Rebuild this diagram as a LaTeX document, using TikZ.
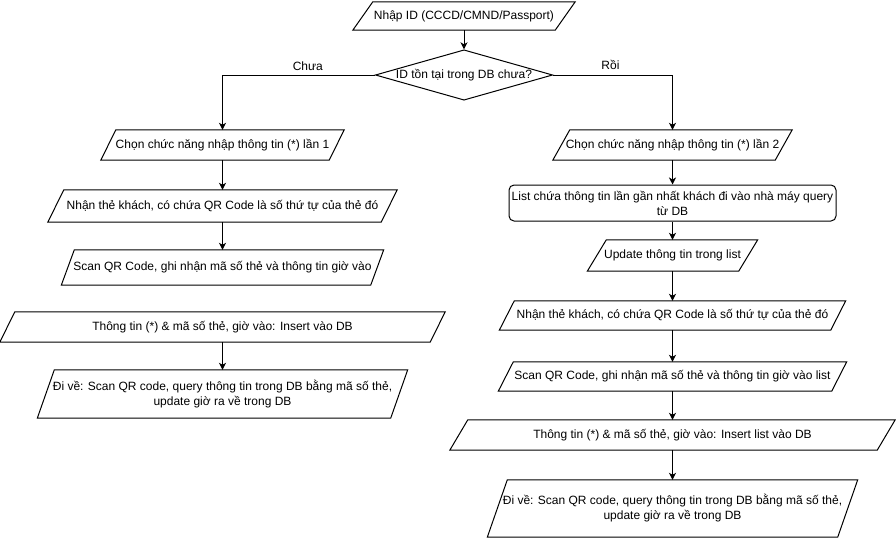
\documentclass[tikz,border=0pt]{standalone}
\usepackage{fontspec}
\setmainfont{Liberation Sans}
\usetikzlibrary{shapes.geometric,arrows.meta}
\tikzset{
  txt/.style={inner sep=0pt, align=center, font=\fontsize{12pt}{15pt}\selectfont},
  shp/.style={draw=black, line width=1pt, line join=miter},
  ln/.style={draw=black, line width=1pt},
  arr/.style={ln, -{Stealth[length=7pt,width=7pt,inset=2pt]}},
  lbl/.style={inner sep=0pt, font=\fontsize{12pt}{15pt}\selectfont},
}
% name, cx, cy, w, h, slant, text
\newcommand\pgram[7]{%
  \node[txt, minimum width=#4pt, minimum height=#5pt] (#1) at (#2,#3) {#7};
  \draw[shp] ([xshift=#6pt]#1.north west) -- (#1.north east)
    -- ([xshift=-#6pt]#1.south east) -- (#1.south west) -- cycle;
}
\begin{document}
\begin{tikzpicture}[x=1pt,y=-1pt]
\useasboundingbox (0,0) rectangle (896,538);

\pgram{T}{464}{16}{222}{28}{20}{Nhập ID (CCCD/CMND/Passport)}
\node[txt, diamond, shp, aspect=3.52, minimum width=176pt, minimum height=50pt] (D) at (464,75) {ID tồn tại trong DB chưa?};

% left branch
\pgram{L1}{222.5}{145}{243}{30}{15}{Chọn chức năng nhập thông tin (*) lần 1}
\pgram{L2}{222.5}{206}{349}{32}{16}{Nhận thẻ khách, có chứa QR Code là số thứ tự của thẻ đó}
\pgram{L3}{222.5}{267.5}{322}{35}{13}{Scan QR Code, ghi nhận mã số thẻ và thông tin giờ vào}
\pgram{L4}{222.5}{327}{445}{30}{15}{Thông tin (*) \& mã số thẻ, giờ vào: Insert vào DB}
\pgram{L5}{222.5}{394}{370}{48}{17}{Đi về: Scan QR code, query thông tin trong DB bằng mã số thẻ,\\update giờ ra về trong DB}

% right branch
\pgram{R1}{672.5}{145}{239}{30}{17}{Chọn chức năng nhập thông tin (*) lần 2}
\node[txt, shp, rounded corners=5pt, minimum width=327pt, minimum height=36pt] (R2) at (672.5,203) {List chứa thông tin lần gần nhất khách đi vào nhà máy query\\từ DB};
\pgram{R3}{672.5}{255.5}{170}{31}{19}{Update thông tin trong list}
\pgram{R4}{672.5}{315.5}{346}{29}{15}{Nhận thẻ khách, có chứa QR Code là số thứ tự của thẻ đó}
\pgram{R5}{672.5}{376.5}{348}{29}{15}{Scan QR Code, ghi nhận mã số thẻ và thông tin giờ vào list}
\pgram{R6}{672.5}{435}{445}{30}{18}{Thông tin (*) \& mã số thẻ, giờ vào: Insert list vào DB}
\pgram{R7}{672.5}{508.5}{370}{57}{20}{Đi về: Scan QR code, query thông tin trong DB bằng mã số thẻ,\\update giờ ra về trong DB}

% connectors
\draw[arr] (T.south) -- (D.north);
\draw[arr] (D.west) -| node[lbl, pos=0.22, yshift=9pt] {Chưa} (L1.north);
\draw[arr] (D.east) -| node[lbl, pos=0.24, yshift=10pt] {Rồi} (R1.north);
\draw[arr] (L1.south) -- (L2.north);
\draw[arr] (L2.south) -- (L3.north);
\draw[arr] (L4.south) -- (L5.north);
\draw[arr] (R1.south) -- (R2.north);
\draw[arr] (R2.south) -- (R3.north);
\draw[arr] (R3.south) -- (R4.north);
\draw[arr] (R4.south) -- (R5.north);
\draw[arr] (R5.south) -- (R6.north);
\draw[arr] (R6.south) -- (R7.north);
\end{tikzpicture}
\end{document}
